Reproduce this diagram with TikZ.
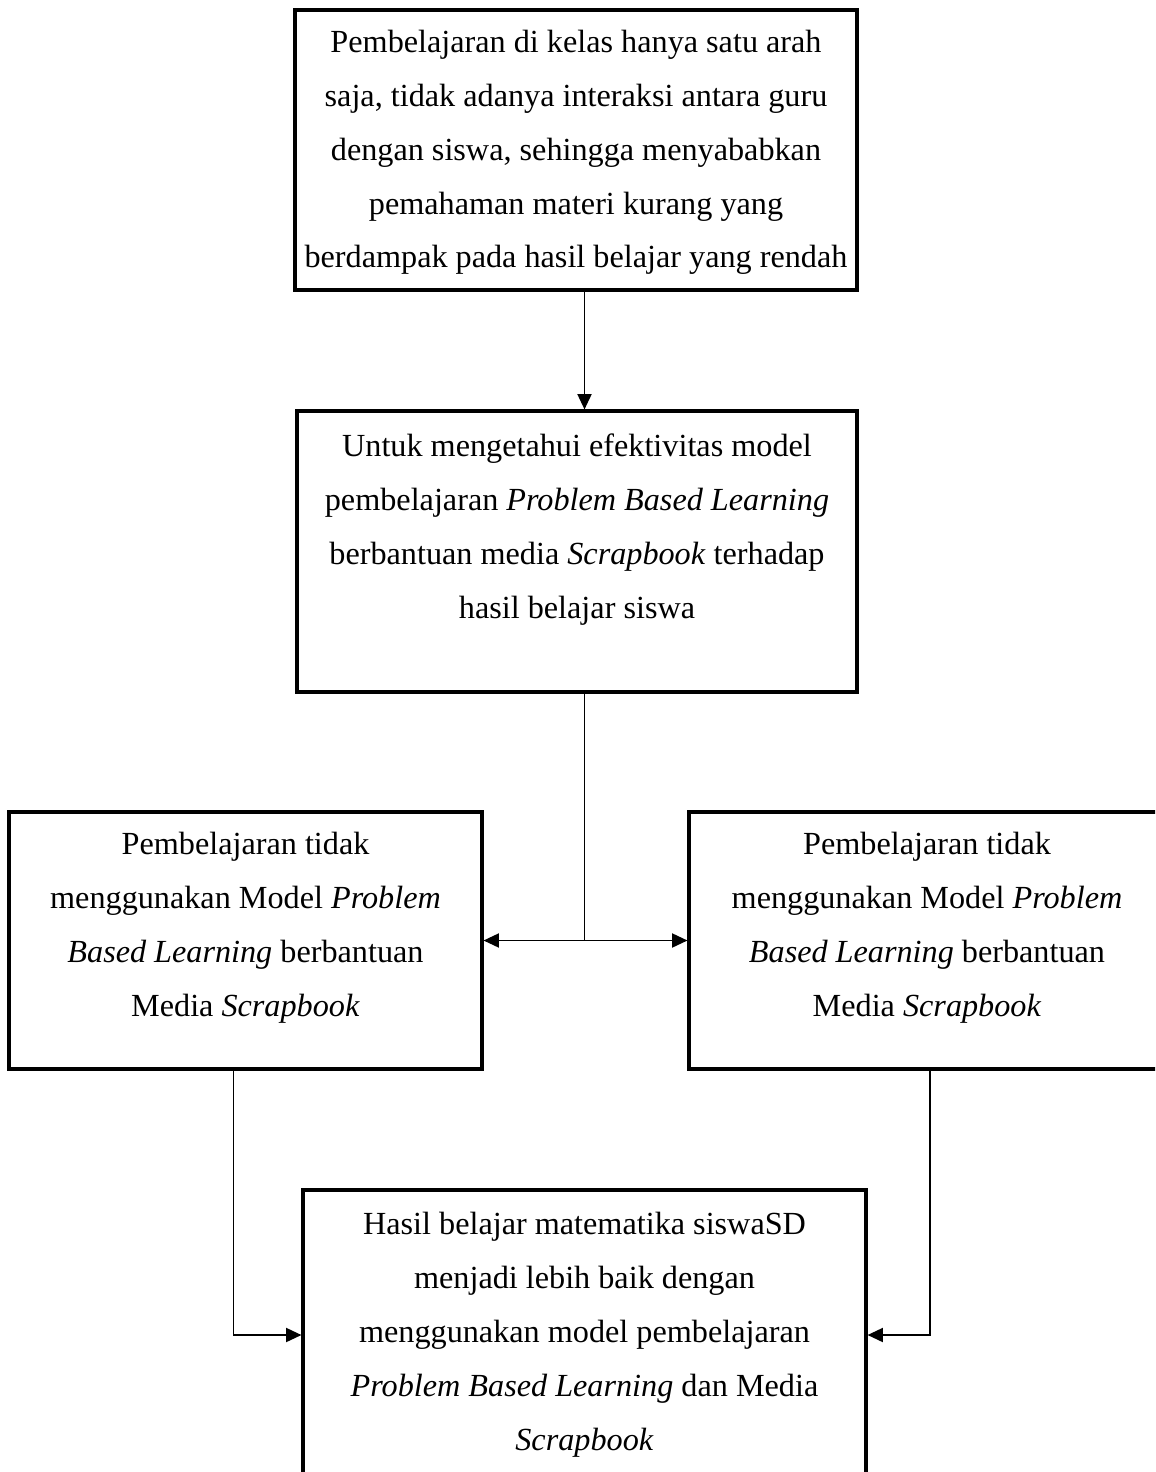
\documentclass[tikz,border=0pt]{standalone}
\usepackage{fontspec}
\setmainfont{Liberation Serif}
\usetikzlibrary{arrows.meta,positioning,fit,calc}

\tikzset{
	kotak/.style={draw, line width=1.1pt, inner sep=0pt},
	isi/.style={anchor=base, align=center, inner sep=0pt, font=\fontsize{11.5}{19.2}\selectfont},
	garis/.style={line width=0.7pt},
	panah/.style={garis, -{Triangle[length=5.5pt,width=5pt]}},
}

\begin{document}
\begin{tikzpicture}[x=0.357pt, y=-0.357pt]
	\useasboundingbox (0,0) rectangle (1155,1472);
	\clip (0,0) rectangle (1155,1472);

	%the boxes
	\node[kotak, fit={(295,10) (857,290)}] (masalah) {};
	\node[kotak, fit={(297,411) (857,692)}] (tujuan) {};
	\node[kotak, fit={(9,812) (482,1069)}] (kontrol) {};
	\node[kotak, fit={(689,812) (1165,1069)}] (eksperimen) {};
	\node[kotak, fit={(303,1190) (866,1480)}] (hasil) {};

	%texts in the boxes (placed by their last line)
	\node[isi] (tmasalah) at (576,268) {Pembelajaran di kelas hanya satu arah\\
		saja, tidak adanya interaksi antara guru\\
		dengan siswa, sehingga menyababkan\\
		pemahaman materi kurang yang\\
		berdampak pada hasil belajar yang rendah};
	\node[isi] (ttujuan) at (577,618) {Untuk mengetahui efektivitas model\\
		pembelajaran \textit{Problem Based Learning}\\
		berbantuan media \textit{Scrapbook} terhadap\\
		hasil belajar siswa};
	\node[isi] (tkontrol) at (245.5,1016) {Pembelajaran tidak\\
		menggunakan Model \textit{Problem}\\
		\textit{Based Learning} berbantuan\\
		Media \textit{Scrapbook}};
	\node[isi] (teksperimen) at (927,1016) {Pembelajaran tidak\\
		menggunakan Model \textit{Problem}\\
		\textit{Based Learning} berbantuan\\
		Media \textit{Scrapbook}};
	\node[isi] (thasil) at (584.5,1450) {Hasil belajar matematika siswaSD\\
		menjadi lebih baik dengan\\
		menggunakan model pembelajaran\\
		\textit{Problem Based Learning} dan Media\\
		\textit{Scrapbook}};

	%connectors
	\draw[panah] (masalah.south -| hasil.north) -- (tujuan.north -| hasil.north);
	\coordinate (cabang) at (kontrol.east -| hasil.north);
	\draw[garis] (tujuan.south -| hasil.north) -- (cabang);
	\draw[panah] (cabang) -- (kontrol.east);
	\draw[panah] (cabang) -- (eksperimen.west);
	\draw[panah] ($(kontrol.south)+(-12,0)$) |- (hasil.west);
	\draw[panah] ($(eksperimen.south)+(3,0)$) |- (hasil.east);
\end{tikzpicture}
\end{document}
